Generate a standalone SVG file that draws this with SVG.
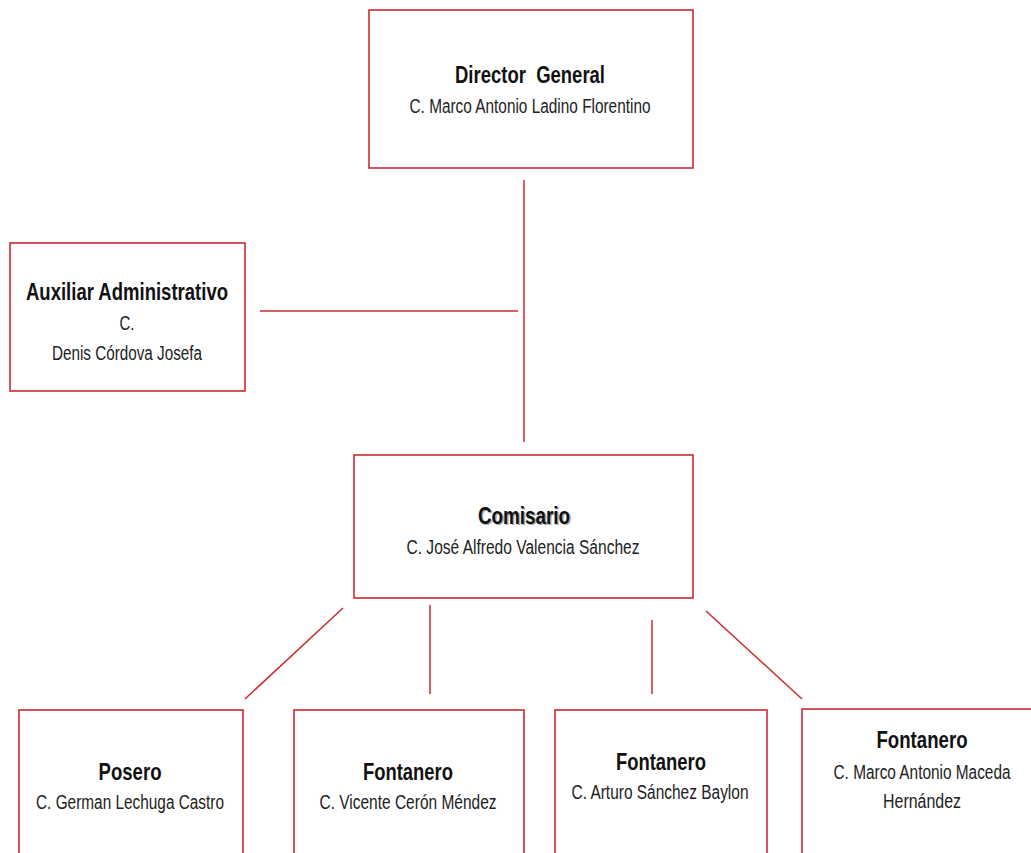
<svg xmlns="http://www.w3.org/2000/svg" width="1031" height="853" viewBox="0 0 1031 853">
<style>
.box{fill:#fff;stroke:#cc2a30;stroke-width:1.6}
.ln{stroke:#cc2a30;stroke-width:1.5;fill:none}
.t{font-family:"Liberation Sans Narrow","Liberation Sans",Arial,sans-serif;font-weight:bold;font-size:24px;fill:#111;text-anchor:middle}
.s{font-family:"Liberation Sans Narrow","Liberation Sans",Arial,sans-serif;font-size:20px;fill:#222;text-anchor:middle}
.sh{fill:#aaa}
</style>
<rect width="1031" height="853" fill="#fff"/>
<g id="connectors">
<line class="ln" x1="524" y1="180" x2="524" y2="442"/>
<line class="ln" x1="260" y1="311" x2="518" y2="311"/>
<line class="ln" x1="343" y1="608" x2="245" y2="699"/>
<line class="ln" x1="430" y1="605" x2="430" y2="694"/>
<line class="ln" x1="652" y1="620" x2="652" y2="694"/>
<line class="ln" x1="706" y1="611" x2="802" y2="699"/>
</g>
<g id="director">
<rect class="box" x="369" y="10" width="324" height="158"/>
<text class="t" x="530" y="83" textLength="150" lengthAdjust="spacingAndGlyphs">Director&#160; General</text>
<text class="s" x="530" y="113" textLength="241" lengthAdjust="spacingAndGlyphs">C. Marco Antonio Ladino Florentino</text>
</g>
<g id="auxiliar">
<rect class="box" x="10" y="243" width="235" height="148"/>
<text class="t" x="127" y="300" textLength="202" lengthAdjust="spacingAndGlyphs">Auxiliar Administrativo</text>
<text class="s" x="127" y="330" textLength="15" lengthAdjust="spacingAndGlyphs">C.</text>
<text class="s" x="127" y="360" textLength="150" lengthAdjust="spacingAndGlyphs">Denis Córdova Josefa</text>
</g>
<g id="comisario">
<text class="t sh" x="525.5" y="525" textLength="92" lengthAdjust="spacingAndGlyphs">Comisario</text>
<rect class="box" x="354" y="455" width="339" height="143" style="fill:none"/>
<text class="t" x="524" y="524" textLength="92" lengthAdjust="spacingAndGlyphs">Comisario</text>
<text class="s" x="523" y="554" textLength="233" lengthAdjust="spacingAndGlyphs">C. José Alfredo Valencia Sánchez</text>
</g>
<g id="posero">
<rect class="box" x="19" y="710" width="224" height="160"/>
<text class="t" x="130" y="780" textLength="63" lengthAdjust="spacingAndGlyphs">Posero</text>
<text class="s" x="130" y="809" textLength="188" lengthAdjust="spacingAndGlyphs">C. German Lechuga Castro</text>
</g>
<g id="fontanero1">
<rect class="box" x="294" y="710" width="230" height="160"/>
<text class="t" x="408" y="780" textLength="90" lengthAdjust="spacingAndGlyphs">Fontanero</text>
<text class="s" x="408" y="809" textLength="177" lengthAdjust="spacingAndGlyphs">C. Vicente Cerón Méndez</text>
</g>
<g id="fontanero2">
<rect class="box" x="555" y="710" width="212" height="160"/>
<text class="t" x="661" y="770" textLength="90" lengthAdjust="spacingAndGlyphs">Fontanero</text>
<text class="s" x="660" y="799" textLength="177" lengthAdjust="spacingAndGlyphs">C. Arturo Sánchez Baylon</text>
</g>
<g id="fontanero3">
<rect class="box" x="802" y="709" width="240" height="160"/>
<text class="t" x="922" y="748" textLength="91" lengthAdjust="spacingAndGlyphs">Fontanero</text>
<text class="s" x="922" y="779" textLength="177" lengthAdjust="spacingAndGlyphs">C. Marco Antonio Maceda</text>
<text class="s" x="922" y="808" textLength="78" lengthAdjust="spacingAndGlyphs">Hernández</text>
</g>
</svg>
